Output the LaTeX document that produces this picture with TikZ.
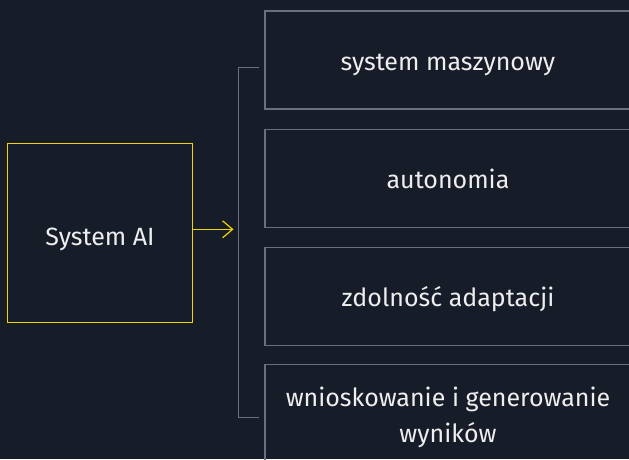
\documentclass[tikz,border=0pt]{standalone}
\usepackage{fontspec}
\setmainfont{Fira Sans}
\usetikzlibrary{arrows.meta, positioning, calc}
\definecolor{bgnavy}{HTML}{161C28}
\definecolor{eyyellow}{HTML}{F2D500}
\definecolor{framegray}{HTML}{6B717C}
\definecolor{textwhite}{HTML}{EEEEEE}

\begin{document}
\begin{tikzpicture}[x=1pt, y=-1pt, font=\fontsize{25}{36}\selectfont, text=textwhite,
  aibox/.style = {draw=eyyellow, line width=1.2pt, minimum width=185pt, minimum height=179pt, align=center, text height=24pt, text depth=0pt},
  itembox/.style = {draw=framegray, line width=1.2pt, minimum width=366pt, minimum height=98pt, align=center, text height=20pt, text depth=0pt},
  bracket/.style = {draw=framegray, line width=1.2pt},
  arrow/.style = {-{Straight Barb[length=10pt, width=17pt, line width=1.2pt]}, draw=eyyellow, line width=1.2pt}
]
\useasboundingbox (0,0) rectangle (629,459);
\fill[bgnavy] (0,0) rectangle (629,459);
\clip (0,0) rectangle (629,459);
\node[aibox] (ai) at (100,233) {System AI};
\node[itembox] (item1) at (448,60) {system maszynowy};
\node[itembox] (item2) at (448,178.3) {autonomia};
\node[itembox] (item3) at (448,296.2) {zdolność adaptacji};
\node[itembox, minimum height=106pt, text height=, text depth=] (item4) at (448,417.3) {wnioskowanie i generowanie\\wyników};
\coordinate (arrowend) at (233.5,229.3);
\coordinate (brtop) at (238.3,67.7);
\coordinate (brbot) at (238.3,417.7);
\draw[arrow] (ai.east |- arrowend) -- (arrowend);
\draw[bracket] ($(brtop)+(21,0)$) -- (brtop) -- (brbot) -- ($(brbot)+(21,0)$);
\end{tikzpicture}
\end{document}
